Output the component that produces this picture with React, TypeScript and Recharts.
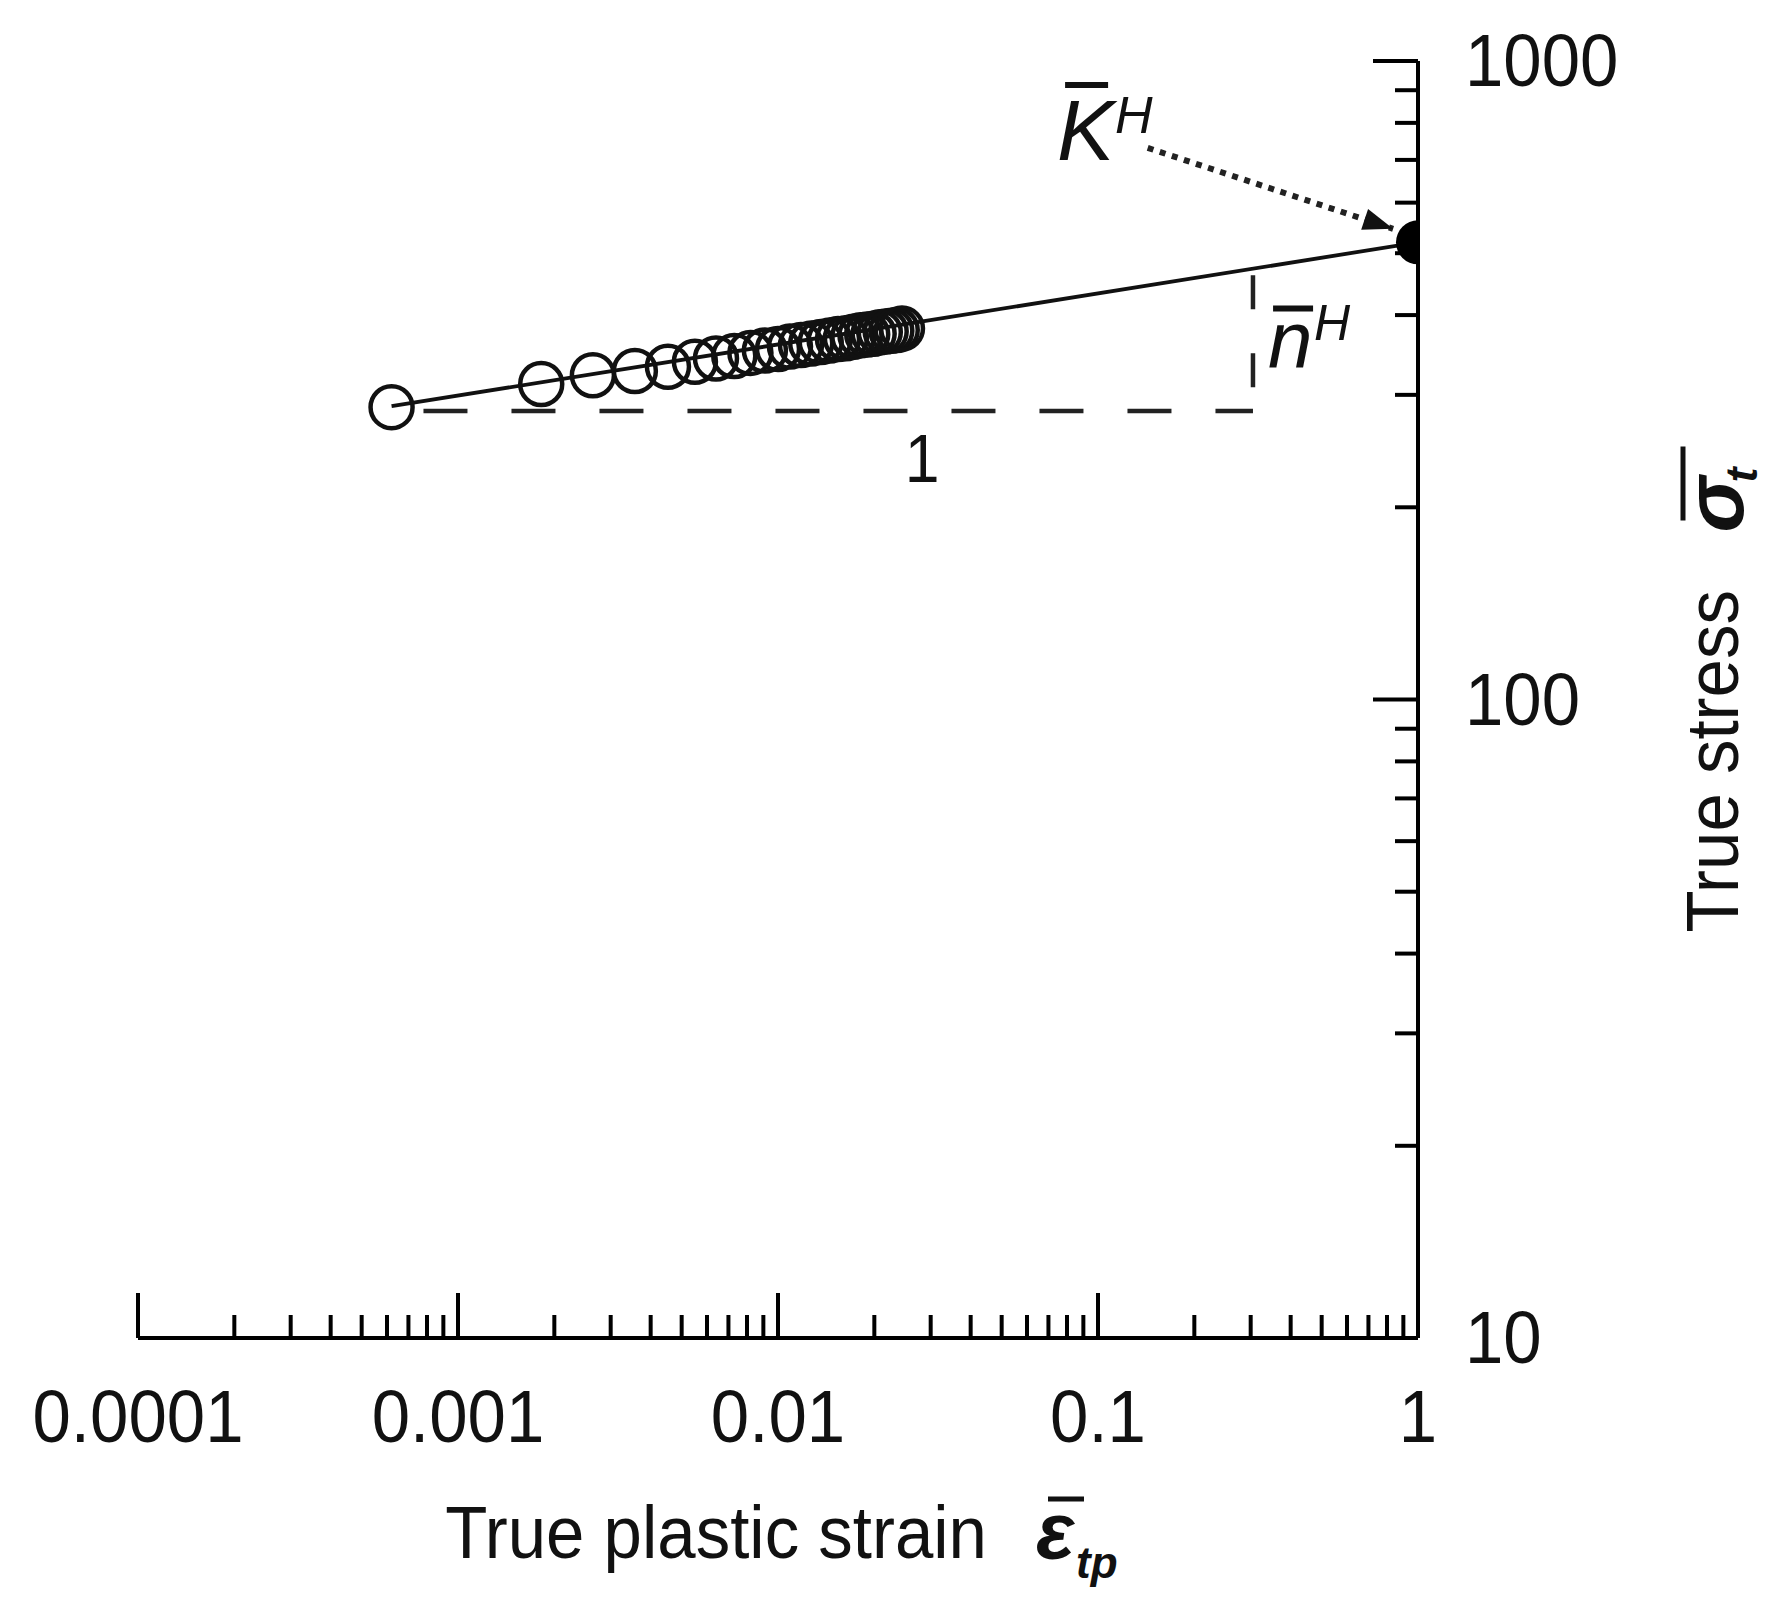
import React from 'react';
import {
  ComposedChart,
  Line,
  Scatter,
  XAxis,
  YAxis,
  ReferenceLine,
  ReferenceDot,
} from 'recharts';

const FONT = '"Liberation Sans", Arial, Helvetica, sans-serif';
const INK = '#111';

const strain = [
  0.00062, 0.00182, 0.00264, 0.00357, 0.00453, 0.0055, 0.0064, 0.0073, 0.0082,
  0.0091, 0.01, 0.0109, 0.0118, 0.0127, 0.0136, 0.0145, 0.0154, 0.0163, 0.0172,
  0.0181, 0.019, 0.0199, 0.0208, 0.0217, 0.0226, 0.0235, 0.0244,
];
const stress = [
  287, 312, 322, 327, 332, 338, 342, 345, 349, 352, 354, 357, 359, 361, 363,
  365, 367, 368, 370, 372, 373, 374, 376, 377, 378, 379, 381,
];

// power-law fit, drawn as a straight segment on log-log axes
const fitStrain = [0.00062, 1];
const fitStress = [288, 520];

// K^H : fitted stress at unit strain
const kStrain = [1];
const kStress = [520];

// slope triangle (dashed)
const triLeft = 0.00078;
const triRight = 0.305;
const triBase = 283;
const triTop = 462;

// dotted arrow from the K^H label to the intercept
const arrowFrom = { x: 0.143, y: 731 };
const arrowTo = { x: 0.836, y: 546 };

// annotation anchors
const kLabelAt = { x: 0.0745, y: 700 };
const nLabelAt = { x: 0.34, y: 330 };
const oneLabelAt = { x: 0.0282, y: 219 };

const xMajorTicks = [0.0001, 0.001, 0.01, 0.1, 1];
const xTickLabels = ['0.0001', '0.001', '0.01', '0.1', '1'];
const xMinorTicks = [
  0.0002, 0.0003, 0.0004, 0.0005, 0.0006, 0.0007, 0.0008, 0.0009,
  0.002, 0.003, 0.004, 0.005, 0.006, 0.007, 0.008, 0.009,
  0.02, 0.03, 0.04, 0.05, 0.06, 0.07, 0.08, 0.09,
  0.2, 0.3, 0.4, 0.5, 0.6, 0.7, 0.8, 0.9,
];
const yMajorTicks = [10, 100, 1000];
const yTickLabels = ['10', '100', '1000'];
const yMinorTicks = [20, 30, 40, 50, 60, 70, 80, 90, 200, 300, 400, 500, 600, 700, 800, 900];

const points = strain.map((x, i) => ({ x, y: stress[i] }));
const fitData = fitStrain.map((x, i) => ({ x, y: fitStress[i] }));
const kData = kStrain.map((x, i) => ({ x, y: kStress[i] }));

const xTicks = [...xMajorTicks, ...xMinorTicks].sort((a, b) => a - b);
const yTicks = [...yMajorTicks, ...yMinorTicks].sort((a, b) => a - b);

const XTick = (props: any) => {
  const { x, y, payload } = props;
  const idx = xMajorTicks.indexOf(payload.value);
  const major = idx >= 0;
  return (
    <g>
      <line x1={x} y1={y} x2={x} y2={y - (major ? 45 : 23)} stroke="#000" strokeWidth={4} />
      {major && (
        <text
          transform={`translate(${x},${y + 104}) scale(0.92,1)`}
          textAnchor="middle"
          fontFamily={FONT}
          fontSize={75}
          fill={INK}
        >
          {xTickLabels[idx]}
        </text>
      )}
    </g>
  );
};

const YTick = (props: any) => {
  const { x, y, payload } = props;
  const idx = yMajorTicks.indexOf(payload.value);
  const major = idx >= 0;
  return (
    <g>
      <line x1={x} y1={y} x2={x - (major ? 45 : 23)} y2={y} stroke="#000" strokeWidth={4} />
      {major && (
        <text
          transform={`translate(${x + 47},${y + 25}) scale(0.92,1)`}
          textAnchor="start"
          fontFamily={FONT}
          fontSize={75}
          fill={INK}
        >
          {yTickLabels[idx]}
        </text>
      )}
    </g>
  );
};

const XTitle = (props: any) => {
  const vb = props.viewBox;
  const cx = vb.x + vb.width / 2;
  const base = vb.y + 220;
  return (
    <g>
      <text
        transform={`translate(${cx + 209},${base}) scale(0.92,1)`}
        textAnchor="end"
        fontFamily={FONT}
        fontSize={75}
        fill={INK}
      >
        True plastic strain
      </text>
      <text x={cx + 258} y={base} fontFamily={FONT} fontSize={80} fontWeight="bold" fontStyle="italic" fill={INK}>
        ε
      </text>
      <line x1={cx + 270} x2={cx + 306} y1={base - 59} y2={base - 59} stroke={INK} strokeWidth={5} />
      <text x={cx + 298} y={base + 20} fontFamily={FONT} fontSize={44} fontWeight="bold" fontStyle="italic" fill={INK}>
        tp
      </text>
    </g>
  );
};

const YTitle = (props: any) => {
  const vb = props.viewBox;
  const bx = vb.x + 320;
  const sy = vb.y + vb.height / 2 + 233;
  return (
    <g transform={`translate(${bx},${sy}) rotate(-90)`}>
      <text transform="scale(0.92,1)" x={0} y={0} fontFamily={FONT} fontSize={75} fill={INK}>
        True stress
      </text>
      <text x={400} y={5} fontFamily={FONT} fontSize={84} fontWeight="bold" fontStyle="italic" fill={INK}>
        σ
      </text>
      <line x1={412} x2={486} y1={-55} y2={-55} stroke={INK} strokeWidth={5} />
      <text x={450} y={19} fontFamily={FONT} fontSize={45} fontWeight="bold" fontStyle="italic" fill={INK}>
        t
      </text>
    </g>
  );
};

const KLabel = (p: any) => (
  <g>
    <text x={p.cx} y={p.cy} fontFamily={FONT} fontSize={86} fontStyle="italic" fill={INK}>
      K
    </text>
    <line x1={p.cx + 8} x2={p.cx + 51} y1={p.cy - 75} y2={p.cy - 75} stroke={INK} strokeWidth={6} />
    <text x={p.cx + 58} y={p.cy - 27} fontFamily={FONT} fontSize={52} fontStyle="italic" fill={INK}>
      H
    </text>
  </g>
);

const NLabel = (p: any) => (
  <g>
    <text x={p.cx} y={p.cy} fontFamily={FONT} fontSize={80} fontStyle="italic" fill={INK}>
      n
    </text>
    <line x1={p.cx + 5} x2={p.cx + 45} y1={p.cy - 60} y2={p.cy - 60} stroke={INK} strokeWidth={6} />
    <text x={p.cx + 46} y={p.cy - 28} fontFamily={FONT} fontSize={50} fontStyle="italic" fill={INK}>
      H
    </text>
  </g>
);

const OneLabel = (p: any) => (
  <text
    transform={`translate(${p.cx},${p.cy}) scale(0.92,1)`}
    textAnchor="middle"
    fontFamily={FONT}
    fontSize={68}
    fill={INK}
  >
    1
  </text>
);

// arrow head, pointing along the dotted shaft (about 18 deg below horizontal)
const ArrowHead = (p: any) => (
  <polygon
    points="0,0 -30,-11 -30,11"
    transform={`translate(${p.cx},${p.cy}) rotate(18.3)`}
    fill={INK}
  />
);

const HollowDot = (p: any) => (
  <circle cx={p.cx} cy={p.cy} r={21} fill="none" stroke={INK} strokeWidth={4.5} />
);

const FilledDot = (p: any) => <circle cx={p.cx} cy={p.cy} r={22} fill="#000" />;

export default function App() {
  return (
    <div style={{ position: 'absolute', left: 0, top: 0, width: 1777, height: 1607, background: '#fff' }}>
      <ComposedChart width={1777} height={1607} margin={{ top: 61, right: 59, bottom: 69, left: 138 }}>
        <XAxis
          dataKey="x"
          type="number"
          scale="log"
          domain={[0.0001, 1]}
          ticks={xTicks}
          interval={0}
          allowDataOverflow
          height={200}
          tickSize={0}
          tickMargin={0}
          tickLine={false}
          axisLine={{ stroke: '#000', strokeWidth: 4 }}
          tick={<XTick />}
          label={(props: any) => <XTitle {...props} />}
        />
        <YAxis
          type="number"
          scale="log"
          orientation="right"
          domain={[10, 1000]}
          ticks={yTicks}
          interval={0}
          allowDataOverflow
          width={300}
          tickSize={0}
          tickMargin={0}
          tickLine={false}
          axisLine={{ stroke: '#000', strokeWidth: 4 }}
          tick={<YTick />}
          label={(props: any) => <YTitle {...props} />}
        />
        <Line
          data={fitData}
          dataKey="y"
          type="linear"
          stroke={INK}
          strokeWidth={3.8}
          dot={false}
          activeDot={false}
          isAnimationActive={false}
        />
        <ReferenceLine
          segment={[{ x: triLeft, y: triBase }, { x: triRight, y: triBase }]}
          stroke="#222"
          strokeWidth={4.5}
          strokeDasharray="44 44"
        />
        <ReferenceLine
          segment={[{ x: triRight, y: triTop }, { x: triRight, y: triBase }]}
          stroke="#222"
          strokeWidth={4.5}
          strokeDasharray="34 44"
        />
        <ReferenceLine
          segment={[arrowFrom, arrowTo]}
          stroke="#222"
          strokeWidth={6}
          strokeDasharray="6 6.7"
        />
        <ReferenceDot x={arrowTo.x} y={arrowTo.y} r={1} shape={ArrowHead} />
        <Scatter data={points} dataKey="y" shape={HollowDot} isAnimationActive={false} />
        <Scatter data={kData} dataKey="y" shape={FilledDot} isAnimationActive={false} />
        <ReferenceDot x={kLabelAt.x} y={kLabelAt.y} r={1} shape={KLabel} />
        <ReferenceDot x={nLabelAt.x} y={nLabelAt.y} r={1} shape={NLabel} />
        <ReferenceDot x={oneLabelAt.x} y={oneLabelAt.y} r={1} shape={OneLabel} />
      </ComposedChart>
    </div>
  );
}
